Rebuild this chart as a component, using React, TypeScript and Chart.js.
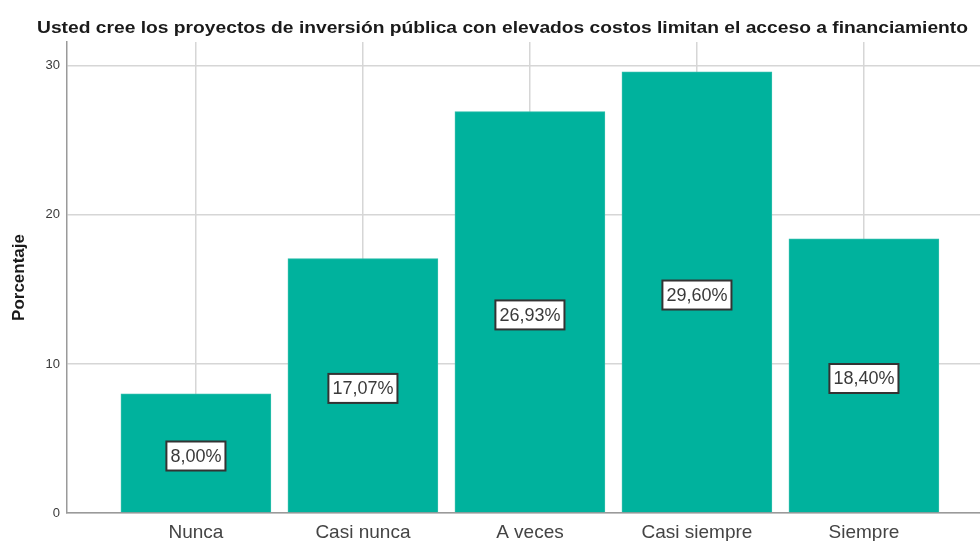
import React, { useEffect, useRef } from "react";
import { Chart, registerables } from "chart.js";

Chart.register(...registerables);

const TITLE = "Usted cree los proyectos de inversión pública con elevados costos limitan el acceso a financiamiento";
const categories = ["Nunca", "Casi nunca", "A veces", "Casi siempre", "Siempre"];
const values = [8.0, 17.07, 26.93, 29.6, 18.4];
const yTicks = [0, 10, 20, 30];

const FONT = "'Liberation Sans', Arial, sans-serif";

const titlePlugin = {
  id: "customTitle",
  afterDraw(chart: any) {
    const ctx = chart.ctx;
    ctx.save();
    ctx.font = `bold 17px ${FONT}`;
    ctx.fillStyle = "#1a1a1a";
    ctx.textAlign = "left";
    ctx.textBaseline = "middle";
    const w = ctx.measureText(TITLE).width;
    const target = 931;
    const sx = target / w;
    ctx.translate(37, 28);
    ctx.scale(sx, 1);
    ctx.fillText(TITLE, 0, 0);
    ctx.restore();
  },
};

const labelPlugin = {
  id: "barLabels",
  afterDatasetsDraw(chart: any) {
    const ctx = chart.ctx;
    const meta = chart.getDatasetMeta(0);
    ctx.save();
    ctx.font = `18px ${FONT}`;
    meta.data.forEach((el: any, i: number) => {
      const text = values[i].toFixed(2).replace(".", ",") + "%";
      const cx = el.x;
      const cy = (el.y + el.base) / 2 + 3;
      const w = ctx.measureText(text).width + 8;
      const h = 29;
      ctx.fillStyle = "#ffffff";
      ctx.fillRect(cx - w / 2, cy - h / 2, w, h);
      ctx.lineWidth = 2;
      ctx.strokeStyle = "#333333";
      ctx.strokeRect(cx - w / 2, cy - h / 2, w, h);
      ctx.fillStyle = "#3a3a3a";
      ctx.textAlign = "center";
      ctx.textBaseline = "middle";
      ctx.fillText(text, cx, cy + 1);
    });
    ctx.restore();
  },
};

export default function App() {
  const ref = useRef<HTMLCanvasElement>(null);
  useEffect(() => {
    if (!ref.current) return;
    const chart = new Chart(ref.current, {
      type: "bar",
      data: {
        datasets: [
          {
            data: values.map((v, i) => ({ x: i, y: v })),
            backgroundColor: "#00b29d",
            borderColor: "#2cbdaa",
            borderWidth: 1,
            barThickness: 150,
          },
        ],
      },
      plugins: [titlePlugin, labelPlugin],
      options: {
        animation: false,
        responsive: true,
        maintainAspectRatio: false,
        layout: { padding: { top: 42, right: 0, left: 0, bottom: 0 } },
        plugins: {
          legend: { display: false },
          tooltip: { enabled: false },
          title: { display: false },
        },
        scales: {
          x: {
            type: "linear",
            offset: false,
            min: -0.772,
            max: 4.695,
            afterFit(scale: any) {
              scale.height = 28;
            },
            afterBuildTicks(scale: any) {
              scale.ticks = categories.map((_, i) => ({ value: i }));
            },
            ticks: {
              stepSize: 1,
              includeBounds: false,
              autoSkip: false,
              maxRotation: 0,
              padding: 8,
              color: "#444444",
              font: { family: FONT, size: 19 },
              callback: (v: any) => categories[v] ?? "",
            },
            grid: {
              offset: false,
              color: "#d6d6d6",
              lineWidth: 1.5,
              drawTicks: false,
            },
            border: { display: true, color: "#9a9a9a", width: 1.5 },
          },
          y: {
            min: 0,
            max: 31.6,
            afterFit(scale: any) {
              scale.width = 67;
            },
            afterBuildTicks(scale: any) {
              scale.ticks = yTicks.map((v) => ({ value: v }));
            },
            ticks: {
              stepSize: 10,
              includeBounds: false,
              padding: 7,
              color: "#3a3a3a",
              font: { family: FONT, size: 13 },
            },
            grid: {
              color: "#d6d6d6",
              lineWidth: 1.5,
              drawTicks: false,
            },
            border: { display: true, color: "#9a9a9a", width: 1.5 },
            title: {
              display: true,
              text: "Porcentaje",
              color: "#1a1a1a",
              font: { family: FONT, size: 17, weight: "bold" },
              padding: { top: 9, bottom: 0 },
            },
          },
        },
      },
    } as any);
    return () => chart.destroy();
  }, []);
  return (
    <div style={{ position: "fixed", left: 0, top: 0, width: 980, height: 541, background: "#fff" }}>
      <canvas ref={ref} />
    </div>
  );
}
